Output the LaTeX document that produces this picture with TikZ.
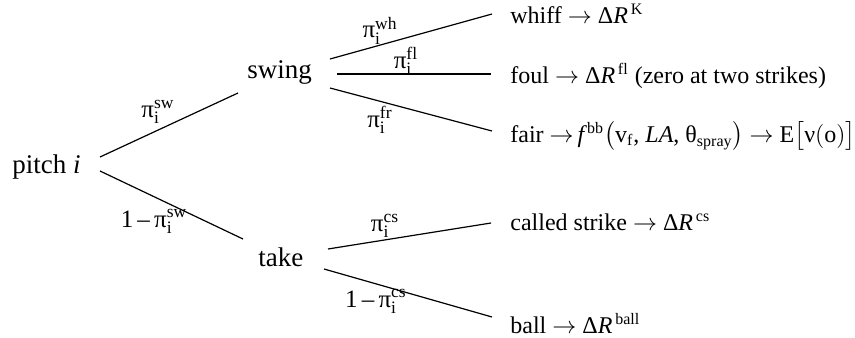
\documentclass[tikz,border=0pt]{standalone}
\usepackage{amsmath}
\usepackage{fontspec}
\setmainfont{Liberation Serif}
\newcommand{\ra}{\ensuremath{\rightarrow}}
\begin{document}
\begin{tikzpicture}[x=0.5pt,y=-0.5pt,
  every node/.style={inner sep=0pt,font=\fontsize{12}{14}\selectfont},
  big/.style={font=\fontsize{13.5}{15}\selectfont},
  txt/.style={anchor=base west},
  lbl/.style={anchor=center,font=\fontsize{12.5}{14}\selectfont},
  edge/.style={draw=black,line width=0.6pt}]
\useasboundingbox (0,0) rectangle (855,337);
% main nodes
\node[txt,big] (pitch) at (12,173) {pitch \textit{i}};
\node[txt,big] (swing) at (247,78) {swing};
\node[txt,big] (take) at (258,266) {take};
% leaves
\node[txt] (whiff) at (510,23) {whiff \ra\ Δ\textit{R}$^{\,\text{K}}$};
\node[txt] (foul) at (510,83) {foul \ra\ Δ\textit{R}$^{\,\text{fl}}$ (zero at two strikes)};
\node[txt] (fair) at (510,142) {fair \ra\,\textit{f}$^{\text{bb}}\bigl(\text{v}_{\text{f}}\text{, }\textit{LA}\text{, θ}_{\text{spray}}\bigr)$ \ra\ E$\bigl[\text{ν}(\text{o})\bigr]$};
\node[txt] (cs) at (510,230) {called strike \ra\ Δ\textit{R}$^{\,\text{cs}}$};
\node[txt] (ball) at (510,333) {ball \ra\ Δ\textit{R}$^{\,\text{ball}}$};
% connector end points
\coordinate (p1) at (100,157);
\coordinate (p2) at (100,171);
\coordinate (s0) at (238,93);
\coordinate (t0) at (243,239);
\coordinate (sw1) at (330,59);
\coordinate (sw2) at (337,74);
\coordinate (sw3) at (330,88);
\coordinate (wh) at (492,14);
\coordinate (fl) at (491,74);
\coordinate (fr) at (492,131);
\coordinate (tk1) at (328,249);
\coordinate (tk2) at (324,269);
\coordinate (csE) at (491,223);
\coordinate (blE) at (492,317);
\draw[edge] (p1) -- (s0);
\draw[edge] (p2) -- (t0);
\draw[edge] (sw1) -- (wh);
\draw[edge] (sw2) -- (fl);
\draw[edge] (sw3) -- (fr);
\draw[edge] (tk1) -- (csE);
\draw[edge] (tk2) -- (blE);
% labels
\node[lbl] (lsw) at (158,112) {$\text{π}_{\text{i}}^{\text{sw}}$};
\node[lbl] (ltk) at (154,221) {$\text{1\,–\,π}_{\text{i}}^{\text{sw}}$};
\node[lbl] (lwh) at (380,31) {$\text{π}_{\text{i}}^{\text{wh}}$};
\node[lbl] (lfl) at (406,61) {$\text{π}_{\text{i}}^{\text{fl}}$};
\node[lbl] (lfr) at (380,120) {$\text{π}_{\text{i}}^{\text{fr}}$};
\node[lbl] (lcs) at (385,226) {$\text{π}_{\text{i}}^{\text{cs}}$};
\node[lbl] (lbl) at (376,301) {$\text{1\,–\,π}_{\text{i}}^{\text{cs}}$};
\end{tikzpicture}
\end{document}
